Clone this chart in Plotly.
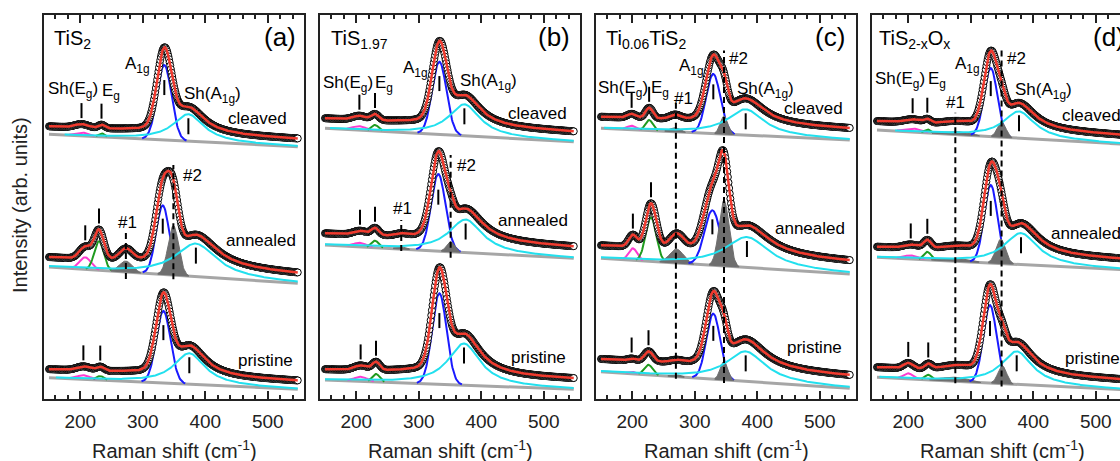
import numpy as np
import plotly.graph_objects as go

# ---------------- data ----------------
raman_shift = np.arange(150.0, 549.0, 1.0)          # cm^-1 sampling of the spectra

samples = ["TiS<sub>2</sub>", "TiS<sub>1.97</sub>",
           "Ti<sub>0.06</sub>TiS<sub>2</sub>", "TiS<sub>2-x</sub>O<sub>x</sub>"]
panel_tags = ["(a)", "(b)", "(c)", "(d)"]
treatments = ["cleaved", "annealed", "pristine"]
x_tick_values = [200, 300, 400, 500]

# linear background [panel][treatment]: value at 150 and at 548 cm^-1, flat extra level of the fit
bg_start = [[264.7, 132.0, 21.3], [270.7, 154.0, 19.0], [270.7, 140.7, 27.3], [269.0, 141.7, 21.7]]
bg_end = [[252.3, 115.7, 9.7], [257.3, 140.7, 9.7], [259.0, 125.0, 10.7], [254.7, 129.2, 9.2]]
bg_flat = [[7.5, 9.0, 8.0], [9.5, 11.0, 10.0], [11.0, 12.0, 12.0], [8.5, 10.0, 9.5]]

# fitted peaks: centre (cm^-1), amplitude, FWHM (cm^-1)   [panel][treatment]
sheg_pos = [[202, 208, 205], [205, 206, 207], [199, 201, 199], [207, 204, 200]]
sheg_amp = [[3.5, 12, 4], [4, 4, 4.5], [4, 12, 2], [3.5, 3.5, 5.5]]
sheg_fwhm = [[26, 22, 26], [25, 25, 25], [17, 16, 15], [32, 28, 18]]

eg_pos = [[234, 230, 232], [230, 230, 231.6], [227, 230, 226], [230.5, 230.5, 232]]
eg_amp = [[3.5, 29, 4], [6, 7, 8], [10.5, 44, 10], [3.5, 8, 5]]
eg_fwhm = [[12, 18, 14], [14, 14, 14], [14, 20, 16], [12, 14, 13]]

p1_pos = [[273, 273, 273], [272, 272, 272], [268.5, 271, 270], [276, 275, 275]]
p1_amp = [[0, 11, 0], [0, 2, 0], [4, 14, 2], [3, 3, 4]]
p1_fwhm = [[24, 24, 24], [20, 20, 20], [20, 26, 20], [50, 50, 50]]

a1g_pos = [[334.5, 332, 333], [333, 331.3, 333], [329.7, 328.2, 329.7], [332, 332, 330.8]]
a1g_amp = [[75, 69, 72], [72.7, 77, 91], [59.6, 55, 65.5], [68.5, 78, 77.8]]
a1g_fwhm = [[27, 25, 27], [27, 27, 27], [27, 30, 26], [25, 25, 25]]

p2_pos = [[349, 349, 349], [351, 351, 351], [346.8, 346.8, 346.8], [349.5, 348, 350.5]]
p2_amp = [[0, 49.5, 0], [0, 10, 0], [18, 65.7, 18.5], [14.8, 24.4, 17.8]]
p2_fwhm = [[18, 20, 18], [15, 15, 15], [14, 19, 14], [16, 18, 16]]

sha1g_pos = [[373, 385, 374.5], [373, 375, 372.4], [381.5, 383.5, 381.5], [377.2, 380.4, 373.5]]
sha1g_amp = [[27, 33, 31], [31.5, 33, 41.7], [25.8, 30.5, 30], [26.8, 31.4, 33]]
sha1g_fwhm = [[60, 80, 60], [60, 65, 62], [70, 85, 75], [60, 65, 60]]

# ---------------- styling ----------------
FONT = "Arial, Liberation Sans, sans-serif"
C_MAG, C_GRN, C_GRY, C_BLU, C_CYN = "#ff3ad0", "#1e9a1e", "#6e6e6e", "#1a1aff", "#22e0ee"
C_BASE, C_RED, C_AX = "#a6a6a6", "#f03a2e", "#222222"

W, H = 1120, 461
ML, MR, MT, MB = 44, 0, 15, 62
PW = W - ML - MR
panel_left = [44, 320, 596, 872]
PANEL_W = 260
PX_PER_UNIT = 0.625
X0 = 142.0


def gauss(x, c, a, w):
    return a * np.exp(-4 * np.log(2) * (x - c) ** 2 / w ** 2)


def lorentz(x, c, a, w):
    return a / (1 + 4 * (x - c) ** 2 / w ** 2)


def baseline(i, j, x):
    return bg_start[i][j] + (bg_end[i][j] - bg_start[i][j]) * (x - 150.0) / 398.0


def components(i, j, x):
    return [
        (gauss(x, sheg_pos[i][j], sheg_amp[i][j], sheg_fwhm[i][j]), C_MAG, False),
        (gauss(x, eg_pos[i][j], eg_amp[i][j], eg_fwhm[i][j]), C_GRN, False),
        (gauss(x, p1_pos[i][j], p1_amp[i][j], p1_fwhm[i][j]), C_GRY, True),
        (gauss(x, a1g_pos[i][j], a1g_amp[i][j], a1g_fwhm[i][j]), C_BLU, False),
        (gauss(x, p2_pos[i][j], p2_amp[i][j], p2_fwhm[i][j]), C_GRY, True),
        (lorentz(x, sha1g_pos[i][j], sha1g_amp[i][j], sha1g_fwhm[i][j]), C_CYN, False),
    ]


def fit(i, j, x):
    x = np.asarray(x, dtype=float)
    return baseline(i, j, x) + bg_flat[i][j] + sum(c for c, _, _ in components(i, j, x))


fig = go.Figure()
annotations = []
x = raman_shift

for i in range(4):
    xa = "x" if i == 0 else f"x{i + 1}"
    ya = "y" if i == 0 else f"y{i + 1}"
    right_px = min(panel_left[i] + PANEL_W, W)
    x_hi = X0 + (right_px - panel_left[i]) / PX_PER_UNIT
    dom = [(panel_left[i] - ML) / PW, min(1.0, (panel_left[i] + PANEL_W - ML) / PW)]
    xkey = "xaxis" if i == 0 else f"xaxis{i + 1}"
    ykey = "yaxis" if i == 0 else f"yaxis{i + 1}"
    fig.layout[xkey] = dict(
        domain=dom, range=[X0, x_hi], anchor=ya, tickmode="array", tickvals=x_tick_values,
        ticks="inside", ticklen=8, tickwidth=1.5, tickcolor=C_AX, showline=True, linewidth=1.6,
        linecolor=C_AX, mirror="ticks", showgrid=False, zeroline=False, ticklabelstandoff=4,
        tickfont=dict(family=FONT, size=19, color=C_AX),
        minor=dict(tickmode="linear", tick0=0, dtick=20, ticks="inside", ticklen=4,
                   tickwidth=1.5, tickcolor=C_AX, showgrid=False),
    )
    fig.layout[ykey] = dict(
        domain=[0, 1], range=[0, 384], anchor=xa, showline=True, linewidth=1.6, linecolor=C_AX,
        mirror=(i < 3), ticks="", showticklabels=False, showgrid=False, zeroline=False,
    )

    for j in range(3):
        base = baseline(i, j, x)
        fig.add_trace(go.Scatter(x=x, y=base, mode="lines", line=dict(color=C_BASE, width=3),
                                 xaxis=xa, yaxis=ya, hoverinfo="skip"))
        for comp, col, filled in components(i, j, x):
            m = comp >= 0.6
            if not m.any():
                continue
            if filled:
                xs = np.concatenate([x[m], x[m][::-1]])
                ys = np.concatenate([(base + comp)[m], base[m][::-1]])
                fig.add_trace(go.Scatter(x=xs, y=ys, mode="lines", fill="toself", fillcolor=col,
                                         line=dict(color=col, width=1), xaxis=xa, yaxis=ya,
                                         hoverinfo="skip"))
            else:
                yy = np.where(m, base + comp, np.nan)
                fig.add_trace(go.Scatter(x=x, y=yy, mode="lines", line=dict(color=col, width=2),
                                         xaxis=xa, yaxis=ya, hoverinfo="skip"))
        yfit = fit(i, j, x)
        fig.add_trace(go.Scatter(x=x, y=yfit, mode="markers",
                                 marker=dict(size=7, color="white", line=dict(color="black", width=1)),
                                 xaxis=xa, yaxis=ya, hoverinfo="skip"))
        fig.add_trace(go.Scatter(x=x, y=yfit, mode="lines", line=dict(color=C_RED, width=2.5),
                                 xaxis=xa, yaxis=ya, hoverinfo="skip"))

        # peak position bars
        mx, my = [], []
        for pos in (sheg_pos[i][j], eg_pos[i][j]):
            f0 = float(fit(i, j, pos))
            mx += [pos, pos, None]
            my += [f0 + 6, f0 + 21, None]
        pa = a1g_pos[i][j]
        yc = float(baseline(i, j, pa)) + 0.7 * a1g_amp[i][j]
        mx += [pa, pa, None]
        my += [yc - 7.5, yc + 7.5, None]
        ps = sha1g_pos[i][j]
        top = float(baseline(i, j, ps)) + sha1g_amp[i][j]
        mx += [ps, ps, None]
        my += [top - 4, top - 20, None]
        fig.add_trace(go.Scatter(x=mx, y=my, mode="lines", line=dict(color="black", width=2),
                                 xaxis=xa, yaxis=ya, hoverinfo="skip"))

    # dashed guide lines for the extra modes #1 and #2
    dx, dy = [], []
    if i in (0, 1):
        j = 1
        p1 = p1_pos[i][j]
        p2 = p2_pos[i][j]
        fmax = float(fit(i, j, x).max())
        if i == 0:
            dx += [p1, p1, None, p2, p2, None]
            dy += [float(baseline(i, j, p1)) - 7, float(fit(i, j, p1)) + 18, None,
                   float(baseline(i, j, p2)) - 4, fmax + 6, None]
        else:
            dx += [p1, p1, None, p2, p2, None]
            dy += [float(baseline(i, j, p1)) - 2, float(fit(i, j, p1)) + 13, None,
                   float(baseline(i, j, p2)) - 6, fmax - 4, None]
    else:
        p1 = float(np.mean(p1_pos[i]))
        p2 = float(np.mean(p2_pos[i]))
        dx += [p1, p1, None, p2, p2, None]
        dy += [float(baseline(i, 2, p1)) - 2, float(fit(i, 0, p1)) + (12 if i == 2 else 8), None,
               float(baseline(i, 2, p2)) - 3, float(fit(i, 0, x).max()) + 4, None]
    fig.add_trace(go.Scatter(x=dx, y=dy, mode="lines",
                             line=dict(color="black", width=2, dash="6px,4px"),
                             xaxis=xa, yaxis=ya, hoverinfo="skip"))

    # x-axis title
    annotations.append(dict(text="Raman shift (cm<sup>-1</sup>)", xref="paper", yref="paper",
                            x=(panel_left[i] + PANEL_W / 2 - ML) / PW, y=(399 - 449) / 384,
                            showarrow=False, xanchor="center", yanchor="middle",
                            font=dict(family=FONT, size=20, color=C_AX)))


def label(i, text, xv, yv, anchor="center", size=17):
    xa = "x" if i == 0 else f"x{i + 1}"
    ya = "y" if i == 0 else f"y{i + 1}"
    annotations.append(dict(text=text, x=xv, y=yv, xref=xa, yref=ya, showarrow=False,
                            xanchor=anchor, yanchor="middle",
                            font=dict(family=FONT, size=size, color="black")))


# panel (a)
label(0, samples[0], 154, 360, "left", 20)
label(0, panel_tags[0], 549, 362, "right", 26)
label(0, "A<sub>1g</sub>", 292, 334)
label(0, "Sh(E<sub>g</sub>)", 188.9, 309)
label(0, "E<sub>g</sub>", 249, 307)
label(0, "Sh(A<sub>1g</sub>)", 412, 304)
label(0, "cleaved", 483, 281)
label(0, "#1", 276, 177)
label(0, "#2", 379, 224)
label(0, "annealed", 489, 159)
label(0, "pristine", 497, 39)
# panel (b)
label(1, samples[1], 156, 360, "left", 20)
label(1, panel_tags[1], 545.5, 362, "right", 26)
label(1, "A<sub>1g</sub>", 294, 330)
label(1, "Sh(E<sub>g</sub>)", 187, 315)
label(1, "E<sub>g</sub>", 245, 315)
label(1, "Sh(A<sub>1g</sub>)", 411, 317)
label(1, "cleaved", 490, 286)
label(1, "#1", 274, 191)
label(1, "#2", 375.6, 234)
label(1, "annealed", 482, 179)
label(1, "pristine", 492, 42)
# panel (c)
label(2, samples[2], 155.5, 360, "left", 20)
label(2, panel_tags[2], 544, 362, "right", 26)
label(2, "A<sub>1g</sub>", 295, 332)
label(2, "#2", 370, 341)
label(2, "Sh(E<sub>g</sub>)", 185, 310)
label(2, "E<sub>g</sub>", 245, 310)
label(2, "#1", 281.7, 301)
label(2, "Sh(A<sub>1g</sub>)", 413.5, 309)
label(2, "cleaved", 490, 291)
label(2, "annealed", 484.4, 171)
label(2, "pristine", 490.8, 52)
# panel (d)
label(3, samples[3], 149.5, 360, "left", 20)
annotations.append(dict(text=panel_tags[3], x=(1127 - ML) / PW, y=362, xref="paper", yref="y4",
                        showarrow=False, xanchor="right", yanchor="middle",
                        font=dict(family=FONT, size=26, color="black")))
label(3, "A<sub>1g</sub>", 294.5, 334)
label(3, "#2", 373.5, 341)
label(3, "Sh(E<sub>g</sub>)", 186.5, 319)
label(3, "E<sub>g</sub>", 246, 319)
label(3, "#1", 274.8, 297)
label(3, "Sh(A<sub>1g</sub>)", 417, 308)
label(3, "cleaved", 442.8, 284, "left")
label(3, "annealed", 425.7, 166, "left")
label(3, "pristine", 448, 41, "left")

annotations.append(dict(text="Intensity (arb. units)", xref="paper", yref="paper",
                        x=(20 - ML) / PW, y=(399 - 205) / 384, textangle=-90, showarrow=False,
                        xanchor="center", yanchor="middle",
                        font=dict(family=FONT, size=20, color=C_AX)))

fig.update_layout(
    width=W, height=H, margin=dict(l=ML, r=MR, t=MT, b=MB, pad=0),
    paper_bgcolor="white", plot_bgcolor="white", showlegend=False,
    annotations=annotations, font=dict(family=FONT),
)

fig.write_html("out.html")
